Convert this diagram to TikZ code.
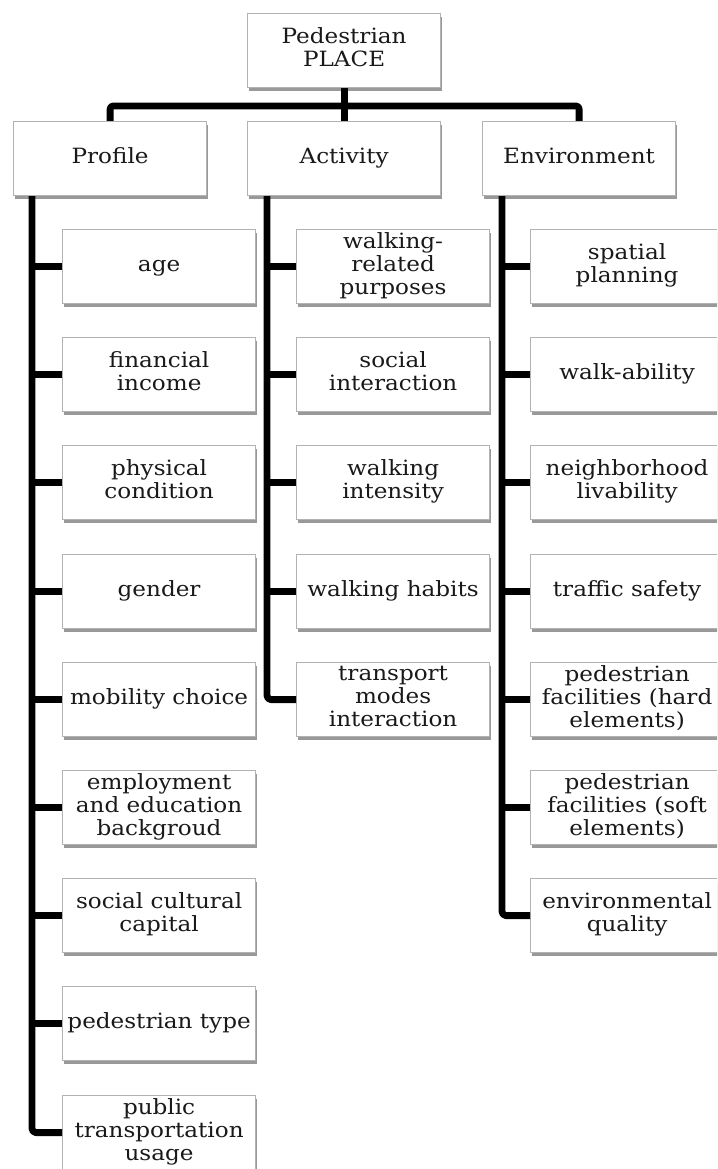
\documentclass[tikz,border=0pt]{standalone}
\usepackage{fontspec}
\setmainfont{DejaVu Serif}[FakeStretch=1.1]
\usetikzlibrary{shadows,calc}
\tikzset{
  box/.style={draw=black!30, line width=1.2pt, fill=white, minimum width=193pt,
    minimum height=74pt, inner sep=0pt, align=center, anchor=north west,
    font=\fontsize{21}{23}\selectfont, text=black!90,
    execute at begin node=\strut, execute at end node=\strut,
    drop shadow={shadow xshift=1.5pt, shadow yshift=-3pt, fill=black, opacity=0.4}},
  conn/.style={line width=6.8pt, line join=round, black}
}
\begin{document}
\begin{tikzpicture}[x=1pt,y=1pt]
\clip (0,0) rectangle (717,-1169);
\fill[white] (0,0) rectangle (717,-1169);
% top levels
\node[box] (top) at (247,-13) {Pedestrian\\PLACE};
\node[box] (prof) at (13,-121) {Profile};
\node[box] (act) at (247,-121) {Activity};
\node[box] (env) at (482,-121) {Environment};
% profile children
\node[box] (p1) at (62,-229) {age};
\node[box] (p2) at (62,-337) {financial\\income};
\node[box] (p3) at (62,-445) {physical\\condition};
\node[box] (p4) at (62,-554) {gender};
\node[box] (p5) at (62,-662) {mobility choice};
\node[box] (p6) at (62,-770) {employment\\and education\\backgroud};
\node[box] (p7) at (62,-878) {social cultural\\capital};
\node[box] (p8) at (62,-986) {pedestrian type};
\node[box] (p9) at (62,-1095) {public\\transportation\\usage};
% activity children
\node[box] (a1) at (296,-229) {walking-\\related\\purposes};
\node[box] (a2) at (296,-337) {social\\interaction};
\node[box] (a3) at (296,-445) {walking\\intensity};
\node[box] (a4) at (296,-554) {walking habits};
\node[box] (a5) at (296,-662) {transport\\modes\\interaction};
% environment children
\node[box] (e1) at (530,-229) {spatial\\planning};
\node[box] (e2) at (530,-337) {walk-ability};
\node[box] (e3) at (530,-445) {neighborhood\\livability};
\node[box] (e4) at (530,-554) {traffic safety};
\node[box] (e5) at (530,-662) {pedestrian\\facilities (hard\\elements)};
\node[box] (e6) at (530,-770) {pedestrian\\facilities (soft\\elements)};
\node[box] (e7) at (530,-878) {environmental\\quality};
% top connectors
\coordinate (bar) at (344,-106);
\draw[conn] (top.south) -- (act.north);
\draw[conn, rounded corners=3pt] (prof.north) |- (bar) -| (env.north);
% column lines
\coordinate (pl) at ($(prof.south west)+(19,0)$);
\coordinate (al) at ($(act.south west)+(20,0)$);
\coordinate (el) at ($(env.south west)+(20,0)$);
\draw[conn, rounded corners=4pt] (pl) |- (p9.west);
\draw[conn, rounded corners=4pt] (al) |- (a5.west);
\draw[conn, rounded corners=4pt] (el) |- (e7.west);
\foreach \n in {p1,p2,p3,p4,p5,p6,p7,p8}
  \draw[conn] (pl |- \n.west) -- (\n.west);
\foreach \n in {a1,a2,a3,a4}
  \draw[conn] (al |- \n.west) -- (\n.west);
\foreach \n in {e1,e2,e3,e4,e5,e6}
  \draw[conn] (el |- \n.west) -- (\n.west);
\end{tikzpicture}
\end{document}
